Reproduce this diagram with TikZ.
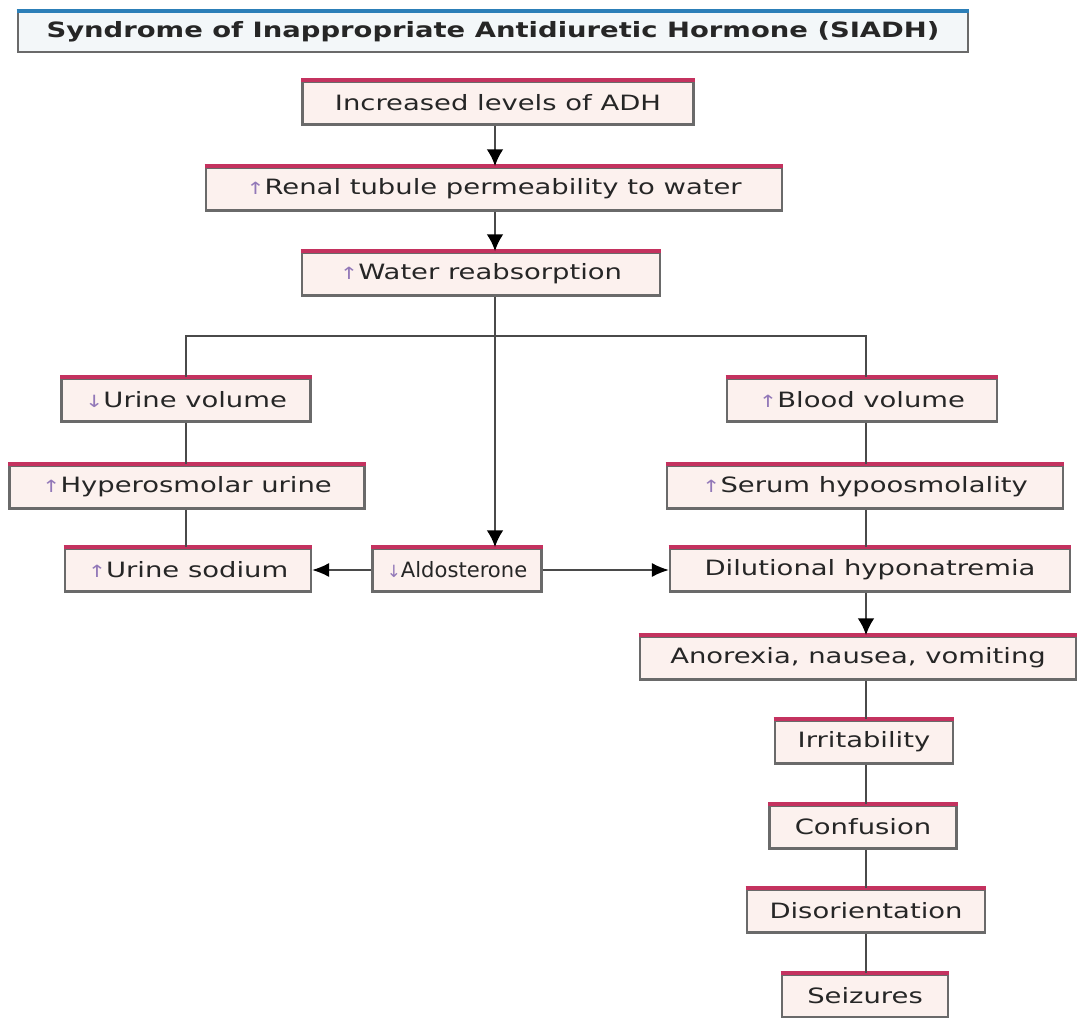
\documentclass[tikz,border=0pt]{standalone}
\usepackage{fontspec}
\setmainfont[FakeStretch=1.3]{DejaVu Sans}
\newfontfamily\plainfont{DejaVu Sans}
\usepackage{tikz}
\usetikzlibrary{calc,arrows.meta}
\definecolor{boxfill}{HTML}{FCF1EE}
\definecolor{titlefill}{HTML}{F3F7F9}
\definecolor{boxgray}{HTML}{6A6A6A}
\definecolor{topred}{HTML}{C4325F}
\definecolor{topblue}{HTML}{2C7FB8}
\definecolor{linegray}{HTML}{4A4A4A}
\definecolor{textgray}{HTML}{262626}
\definecolor{arrowpurple}{HTML}{9278B8}
\newcommand{\up}{{\color{arrowpurple}\fontsize{12}{14}\selectfont↑}}
\newcommand{\down}{{\color{arrowpurple}\fontsize{12}{14}\selectfont↓}}

\begin{document}
\begin{tikzpicture}[x=0.025cm,y=-0.025cm,
    box/.style={draw=boxgray,line width=1.8pt,fill=boxfill,minimum height=1.075cm,inner xsep=3pt,inner ysep=0pt,text=textgray,font=\fontsize{15}{18}\selectfont},
    topline/.style={draw=topred,line width=2.8pt},
    conn/.style={draw=linegray,line width=1.9pt},
    arr/.style={conn,-{Latex[length=12pt,width=12pt,color=black]}},
    harr/.style={draw=linegray,line width=0.9pt,-{Latex[length=12pt,width=10pt,color=black]}}]
  \useasboundingbox (0,0) rectangle (1078,1018);

  \node[box,fill=titlefill,minimum width=23.75cm,minimum height=1.0cm,font=\bfseries\fontsize{15}{18}\selectfont] (title) at (493,32) {Syndrome of Inappropriate Antidiuretic Hormone (SIADH)};

  \node[box,minimum width=9.775cm] (adh) at (498,103) {Increased levels of ADH};
  \node[box,minimum width=14.4cm] (renal) at (494,189) {\up Renal tubule permeability to water};
  \node[box,minimum width=8.95cm] (water) at (481,274) {\up Water reabsorption};

  \node[box,minimum width=6.225cm] (urinevol) at (186,400) {\down Urine volume};
  \node[box,minimum width=8.875cm] (hyperosm) at (187,487) {\up Hyperosmolar urine};
  \node[box,minimum width=6.15cm] (urinena) at (188,570) {\up Urine sodium};
  \node[box,minimum width=4.225cm,font=\plainfont\fontsize{15}{18}\selectfont] (aldo) at (457,570) {\down Aldosterone};

  \node[box,minimum width=6.75cm] (bloodvol) at (862,400) {\up Blood volume};
  \node[box,minimum width=9.9cm] (serum) at (865,487) {\up Serum hypoosmolality};
  \node[box,minimum width=10cm] (dilut) at (870,570) {Dilutional hyponatremia};
  \node[box,minimum width=10.9cm] (anorexia) at (858,658) {Anorexia, nausea, vomiting};
  \node[box,minimum width=4.45cm] (irrit) at (864,742) {Irritability};
  \node[box,minimum width=4.675cm] (confus) at (863,827) {Confusion};
  \node[box,minimum width=5.95cm] (disor) at (866,911) {Disorientation};
  \node[box,minimum width=4.15cm] (seiz) at (865,996) {Seizures};

  \draw[draw=topblue,line width=2.8pt] (title.north west) -- (title.north east);
  \foreach \n in {adh,renal,water,urinevol,hyperosm,urinena,aldo,bloodvol,serum,dilut,anorexia,irrit,confus,disor,seiz}
    \draw[topline] (\n.north west) -- (\n.north east);

  \coordinate (stem) at (495,0);
  \coordinate (lstem) at (186,0);
  \coordinate (rstem) at (866,0);
  \coordinate (split) at (495,336);

  \draw[arr] (adh.south -| stem) -- (renal.north -| stem);
  \draw[arr] (renal.south -| stem) -- (water.north -| stem);
  \draw[arr] (water.south -| stem) -- (aldo.north -| stem);
  \draw[conn] (urinevol.north -| lstem) |- (split) -| (bloodvol.north -| rstem);

  \draw[conn] (urinevol.south -| lstem) -- (hyperosm.north -| lstem);
  \draw[conn] (hyperosm.south -| lstem) -- (urinena.north -| lstem);

  \draw[conn] (bloodvol.south -| rstem) -- (serum.north -| rstem);
  \draw[conn] (serum.south -| rstem) -- (dilut.north -| rstem);
  \draw[arr] (dilut.south -| rstem) -- (anorexia.north -| rstem);
  \draw[conn] (anorexia.south -| rstem) -- (irrit.north -| rstem);
  \draw[conn] (irrit.south -| rstem) -- (confus.north -| rstem);
  \draw[conn] (confus.south -| rstem) -- (disor.north -| rstem);
  \draw[conn] (disor.south -| rstem) -- (seiz.north -| rstem);

  \draw[harr] (aldo.west) -- (urinena.east);
  \draw[harr] (aldo.east) -- (dilut.west);
\end{tikzpicture}
\end{document}
